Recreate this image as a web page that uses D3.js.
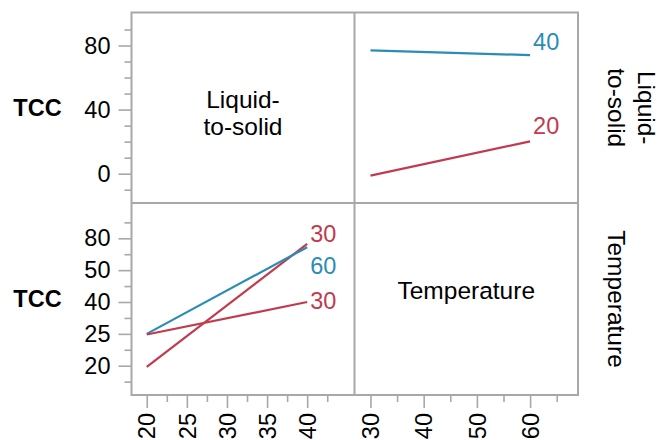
<!DOCTYPE html>
<html>
<head>
<meta charset="utf-8">
<script src="https://cdn.jsdelivr.net/npm/d3@7"></script>
<style>
  body { margin: 0; background: #fff; }
  text { font-family: "Liberation Sans", Arial, Helvetica, sans-serif; }
</style>
</head>
<body>
<div id="chart"></div>
<script>
// factor levels (x axes)
var temperatureLevels = [30, 60];
var liquidLevels = [20, 40];

// top-right panel: TCC vs Temperature, one line per Liquid-to-solid level
var topRightNames = ["40", "20"];
var topRightValues = [[76.9, 74.0], [-1.2, 20.2]];

// bottom-left panel: TCC vs Liquid-to-solid, one line per Temperature level
var bottomLeftNames = ["30", "60", "30"];
var bottomLeftValues = [[19.8, 74.7], [25.0, 71.6], [24.9, 40.0]];

// tick labels
var topYTicks = [0, 40, 80];
var topYMinor = [-10, 10, 20, 30, 50, 60, 70, 90];
var bottomYTicks = [20, 25, 40, 50, 80];
var bottomYMinor = [17.5, 22.5, 32.5, 45, 65, 95];
var liquidTicks = [20, 25, 30, 35, 40];
var liquidMinor = [22.5, 27.5, 32.5, 37.5, 42.5];
var tempTicks = [30, 40, 50, 60];
var tempMinor = [35, 45, 55, 65];

var blue = "#2b8cb4", red = "#c23a4d", gray = "#a8a8a8";

var width = 663, height = 440;
var svg = d3.select("#chart")
  .append("svg")
    .attr("width", width)
    .attr("height", height);

// panel grid
var x0 = 131.5, x1 = 354.5, x2 = 578;
var y0 = 12.5, y1 = 203, y2 = 395;

// scales
var yTop = d3.scaleLinear().domain([-18.3, 100.6]).range([y1, y0]);
var rowStep = 31.85;
var yBottom = d3.scaleLinear()
  .domain(bottomYTicks)
  .range(bottomYTicks.map(function(d, i) { return 365.7 - i * rowStep; }));
var xLiquid = d3.scaleLinear().domain([18.1, 45.9]).range([x0, x1]);
var xTemp = d3.scaleLinear().domain([27, 69]).range([x1, x2]);

// y axes on the left
function leftAxis(scale, ticks, minor) {
  var g = svg.append("g").attr("transform", "translate(" + x0 + ",0)");
  g.append("g")
    .call(d3.axisLeft(scale).tickValues(ticks).tickSize(13).tickPadding(8).tickFormat(d3.format("d")))
    .call(function(a) { a.select(".domain").remove(); });
  g.append("g")
    .call(d3.axisLeft(scale).tickValues(minor).tickSize(7).tickFormat(""))
    .call(function(a) { a.select(".domain").remove(); });
  g.selectAll("line").attr("stroke", gray).attr("stroke-width", 1.6);
  g.selectAll("text").style("font-size", "23.5px").attr("fill", "#000");
}
leftAxis(yTop, topYTicks, topYMinor);
leftAxis(yBottom, bottomYTicks, bottomYMinor);

// x axes at the bottom
function bottomAxis(scale, ticks, minor) {
  var g = svg.append("g").attr("transform", "translate(0," + y2 + ")");
  g.append("g")
    .call(d3.axisBottom(scale).tickValues(ticks).tickSize(13).tickFormat(d3.format("d")))
    .call(function(a) { a.select(".domain").remove(); })
    .selectAll("text")
      .attr("transform", "rotate(-90)")
      .attr("text-anchor", "end")
      .attr("x", -18)
      .attr("y", 0)
      .attr("dy", "0.35em");
  g.append("g")
    .call(d3.axisBottom(scale).tickValues(minor).tickSize(7).tickFormat(""))
    .call(function(a) { a.select(".domain").remove(); });
  g.selectAll("line").attr("stroke", gray).attr("stroke-width", 1.6);
  g.selectAll("text").style("font-size", "23.5px").attr("fill", "#000");
}
bottomAxis(xLiquid, liquidTicks, liquidMinor);
bottomAxis(xTemp, tempTicks, tempMinor);

// frame
svg.append("rect")
  .attr("x", x0).attr("y", y0)
  .attr("width", x2 - x0).attr("height", y2 - y0)
  .attr("fill", "none").attr("stroke", gray).attr("stroke-width", 2);
svg.append("line")
  .attr("x1", x1).attr("x2", x1).attr("y1", y0).attr("y2", y2)
  .attr("stroke", gray).attr("stroke-width", 2);
svg.append("line")
  .attr("x1", x0).attr("x2", x2).attr("y1", y1).attr("y2", y1)
  .attr("stroke", gray).attr("stroke-width", 2);

// lines
var lineTop = d3.line()
  .x(function(d, i) { return xTemp(temperatureLevels[i]); })
  .y(function(d) { return yTop(d); });
var lineBottom = d3.line()
  .x(function(d, i) { return xLiquid(liquidLevels[i]); })
  .y(function(d) { return yBottom(d); });

var topColors = [blue, red];
var topLabelDy = [-5, -7];
svg.append("g").selectAll("path")
  .data(topRightValues)
  .enter().append("path")
    .attr("d", lineTop)
    .attr("fill", "none")
    .attr("stroke", function(d, i) { return topColors[i]; })
    .attr("stroke-width", 2.2);
svg.append("g").selectAll("text")
  .data(topRightValues)
  .enter().append("text")
    .attr("x", xTemp(temperatureLevels[1]) + 3)
    .attr("y", function(d, i) { return yTop(d[1]) + topLabelDy[i]; })
    .attr("fill", function(d, i) { return topColors[i]; })
    .style("font-size", "23.5px")
    .text(function(d, i) { return topRightNames[i]; });

var bottomColors = [red, blue, red];
var bottomLabelDy = [-2, 27, 7];
svg.append("g").selectAll("path")
  .data(bottomLeftValues)
  .enter().append("path")
    .attr("d", lineBottom)
    .attr("fill", "none")
    .attr("stroke", function(d, i) { return bottomColors[i]; })
    .attr("stroke-width", 2.2);
svg.append("g").selectAll("text")
  .data(bottomLeftValues)
  .enter().append("text")
    .attr("x", xLiquid(liquidLevels[1]) + 3)
    .attr("y", function(d, i) { return yBottom(d[1]) + bottomLabelDy[i]; })
    .attr("fill", function(d, i) { return bottomColors[i]; })
    .style("font-size", "23.5px")
    .text(function(d, i) { return bottomLeftNames[i]; });

// diagonal panel names
var midX0 = (x0 + x1) / 2, midX1 = (x1 + x2) / 2;
var midY0 = (y0 + y1) / 2, midY1 = (y1 + y2) / 2;
svg.append("text")
  .attr("x", midX0).attr("y", 107.5)
  .attr("text-anchor", "middle")
  .style("font-size", "24.5px")
  .text("Liquid-");
svg.append("text")
  .attr("x", midX0).attr("y", 134.5)
  .attr("text-anchor", "middle")
  .style("font-size", "24.5px")
  .text("to-solid");
svg.append("text")
  .attr("x", midX1).attr("y", 298.5)
  .attr("text-anchor", "middle")
  .style("font-size", "24.5px")
  .text("Temperature");

// response labels
[midY0, midY1].forEach(function(my) {
  svg.append("text")
    .attr("x", 37.5).attr("y", my)
    .attr("dy", "0.35em")
    .attr("text-anchor", "middle")
    .style("font-size", "23.5px")
    .style("font-weight", "bold")
    .text("TCC");
});

// row labels on the right
var rl = svg.append("g").attr("transform", "translate(632," + midY0 + ")rotate(90)");
rl.append("text").attr("y", -15).attr("dy", "0.35em").attr("text-anchor", "middle")
  .style("font-size", "24.5px").text("Liquid-");
rl.append("text").attr("y", 15).attr("dy", "0.35em").attr("text-anchor", "middle")
  .style("font-size", "24.5px").text("to-solid");
svg.append("g").attr("transform", "translate(617," + midY1 + ")rotate(90)")
  .append("text").attr("dy", "0.35em").attr("text-anchor", "middle")
  .style("font-size", "24.5px").text("Temperature");
</script>
</body>
</html>
